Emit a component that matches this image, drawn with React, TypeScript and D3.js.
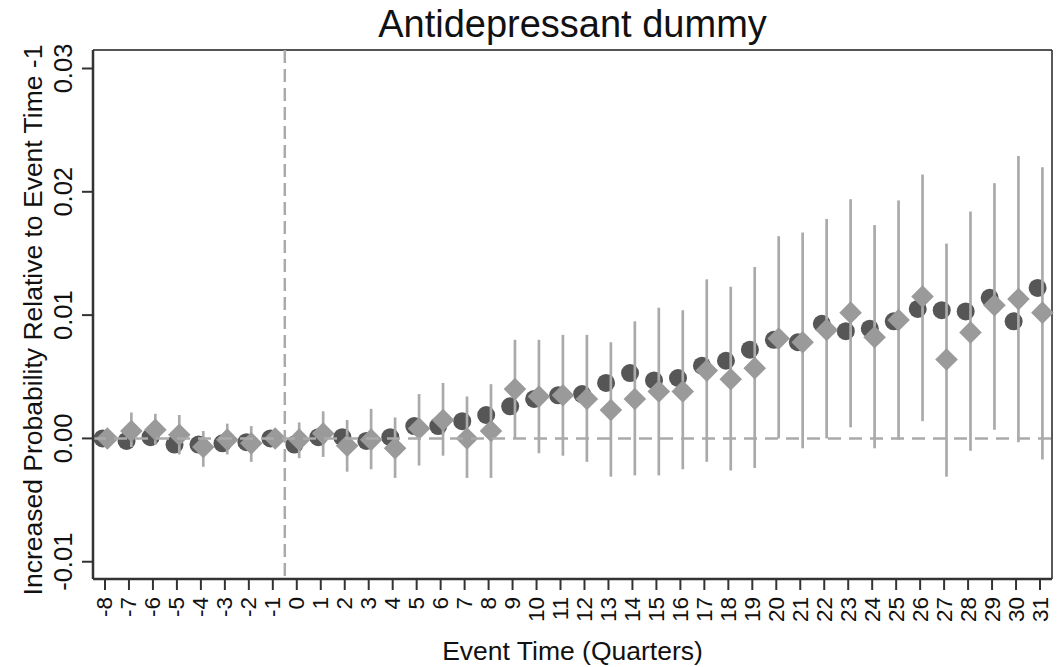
import * as d3 from "d3";

// event time in quarters, relative to the event
const eventTimes = [
  -8, -7, -6, -5, -4, -3, -2, -1, 0, 1, 2, 3, 4, 5, 6, 7, 8, 9, 10, 11, 12, 13,
  14, 15, 16, 17, 18, 19, 20, 21, 22, 23, 24, 25, 26, 27, 28, 29, 30, 31,
];

// dark circles
const circleEst = [
  0.0, -0.0002, 0.0001, -0.0005, -0.0005, -0.0004, -0.0003, 0.0, -0.0005,
  0.0001, 0.0001, -0.0002, 0.0001, 0.001, 0.001, 0.0014, 0.0019, 0.0026,
  0.0032, 0.0035, 0.0036, 0.0045, 0.0053, 0.0047, 0.0049, 0.0059, 0.0063,
  0.0072, 0.008, 0.0078, 0.0093, 0.0087, 0.0089, 0.0095, 0.0105, 0.0104,
  0.0103, 0.0114, 0.0095, 0.0122,
];

// light diamonds (with the confidence bands)
const diamondEst = [
  0.0, 0.0006, 0.0007, 0.0003, -0.0007, -0.0001, -0.0004, 0.0, -0.0001,
  0.0004, -0.0006, -0.0001, -0.0008, 0.0008, 0.0015, 0.0, 0.0006, 0.004,
  0.0034, 0.0035, 0.0032, 0.0023, 0.0032, 0.0038, 0.0038, 0.0055, 0.0048,
  0.0057, 0.0081, 0.0078, 0.0088, 0.0102, 0.0082, 0.0096, 0.0115, 0.0064,
  0.0086, 0.0108, 0.0113, 0.0102,
];

const ciLow = [
  -0.0006, -0.0007, -0.0005, -0.0013, -0.0023, -0.0013, -0.0019, 0.0, -0.0016,
  -0.0015, -0.0027, -0.0025, -0.0032, -0.0022, -0.0014, -0.0032, -0.0032, 0.0,
  -0.0012, -0.0014, -0.0019, -0.0031, -0.003, -0.003, -0.0025, -0.0019,
  -0.0026, -0.0024, 0.0, -0.0008, 0.0, 0.0009, -0.0008, -0.0001, 0.0014,
  -0.0031, -0.001, 0.0007, -0.0003, -0.0017,
];

const ciHigh = [
  0.0006, 0.0021, 0.002, 0.0019, 0.0006, 0.0012, 0.001, 0.0, 0.0013, 0.0022,
  0.0015, 0.0024, 0.0017, 0.0036, 0.0045, 0.0034, 0.0044, 0.008, 0.008,
  0.0084, 0.0084, 0.0078, 0.0095, 0.0106, 0.0104, 0.0129, 0.0123, 0.0139,
  0.0164, 0.0167, 0.0178, 0.0194, 0.0173, 0.0193, 0.0214, 0.0158, 0.0184,
  0.0207, 0.0229, 0.022,
];

const yTicks = [-0.01, 0.0, 0.01, 0.02, 0.03];

const W = 1061;
const H = 667;
const left = 93;
const right = 1052;
const top = 50;
const bottom = 579;
const font = "'Liberation Sans', Arial, sans-serif";

export default function App() {
  const x = d3.scaleLinear().domain([-8.5, 31.5]).range([left, right]);
  const y = d3.scaleLinear().domain([-0.0114, 0.0315]).range([bottom, top]);
  const diamond = d3.symbol(d3.symbolSquare, 255)();
  const fmt = (v: number) => d3.format(".2f")(v).replace("\u2212", "-");

  return (
    <svg
      width={W}
      height={H}
      style={{ position: "absolute", left: 0, top: 0, background: "#fff" }}
    >
      <text
        x={(left + right) / 2}
        y={37}
        textAnchor="middle"
        fontFamily={font}
        fontSize={38}
        fill="#111"
      >
        Antidepressant dummy
      </text>

      {/* frame */}
      <line x1={left} x2={right} y1={top} y2={top} stroke="#555" strokeWidth={2} />
      <line x1={right} x2={right} y1={top} y2={bottom} stroke="#222" strokeWidth={1.5} />

      {/* dark circles */}
      {eventTimes.map((t, i) => (
        <circle key={"c" + t} cx={x(t - 0.1)} cy={y(circleEst[i])} r={9} fill="#565656" />
      ))}

      {/* confidence bars */}
      {eventTimes.map((t, i) => (
        <line
          key={"b" + t}
          x1={x(t + 0.1)}
          x2={x(t + 0.1)}
          y1={y(ciLow[i])}
          y2={y(ciHigh[i])}
          stroke="#aaa"
          strokeWidth={2.7}
        />
      ))}

      {/* diamonds */}
      {eventTimes.map((t, i) => (
        <path
          key={"d" + t}
          d={diamond}
          transform={`translate(${x(t + 0.1)},${y(diamondEst[i])}) rotate(45)`}
          fill="#9a9a9a"
        />
      ))}

      {/* reference lines */}
      <line
        x1={left}
        x2={right}
        y1={y(0)}
        y2={y(0)}
        stroke="#aaa"
        strokeWidth={2.5}
        strokeDasharray="13,8"
      />
      <line
        x1={x(-0.5)}
        x2={x(-0.5)}
        y1={top}
        y2={bottom}
        stroke="#aaa"
        strokeWidth={2.5}
        strokeDasharray="13,6"
      />

      {/* y axis */}
      <line x1={left} x2={left} y1={top} y2={bottom} stroke="#333" strokeWidth={2.5} />
      {yTicks.map((v) => (
        <g key={v}>
          <line x1={left - 11} x2={left} y1={y(v)} y2={y(v)} stroke="#333" strokeWidth={2} />
          <text
            transform={`translate(72,${y(v)}) rotate(-90)`}
            textAnchor="middle"
            fontFamily={font}
            fontSize={25.5}
            fill="#111"
          >
            {fmt(v)}
          </text>
        </g>
      ))}
      <text
        transform={`translate(41.5,320) rotate(-90)`}
        textAnchor="middle"
        fontFamily={font}
        fontSize={26.5}
        fill="#111"
      >
        Increased Probability Relative to Event Time -1
      </text>

      {/* x axis */}
      <line x1={left} x2={right} y1={bottom} y2={bottom} stroke="#333" strokeWidth={2.5} />
      {eventTimes.map((t) => (
        <g key={"t" + t}>
          <line x1={x(t)} x2={x(t)} y1={bottom} y2={bottom + 11} stroke="#333" strokeWidth={2} />
          <text
            transform={`translate(${x(t) + 7.5},597) rotate(-90)`}
            textAnchor="end"
            fontFamily={font}
            fontSize={22.5}
            fill="#111"
          >
            {t}
          </text>
        </g>
      ))}
      <text
        x={(left + right) / 2}
        y={660}
        textAnchor="middle"
        fontFamily={font}
        fontSize={26.5}
        fill="#111"
      >
        Event Time (Quarters)
      </text>
    </svg>
  );
}
